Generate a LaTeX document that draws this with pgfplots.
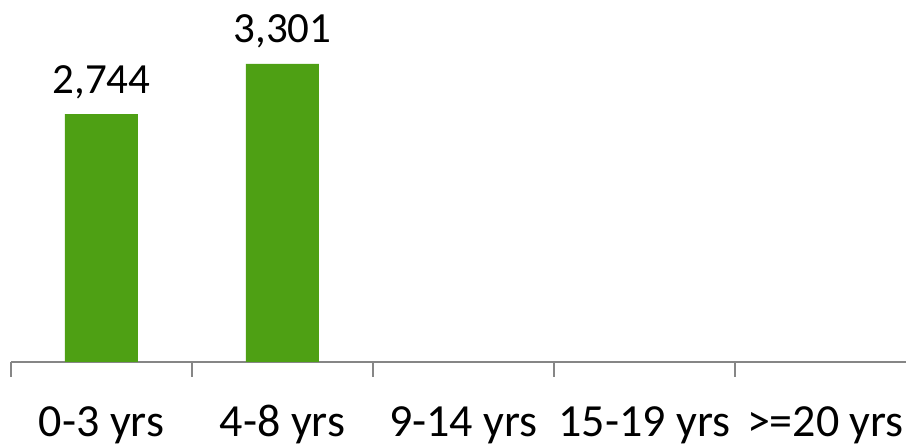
\documentclass[border=0pt]{standalone}
\usepackage{pgfplots}
\pgfplotsset{compat=1.18}
\usepackage{fontspec}
\setmainfont{Carlito}
\definecolor{bargreen}{RGB}{78,160,20}
\definecolor{axgray}{RGB}{134,134,134}
\begin{document}
\begin{tikzpicture}
\begin{axis}[
  name=ax,
  scale only axis,
  width=895pt, height=362pt,
  xmin=-0.5, xmax=4.445,
  ymin=0, ymax=4009,
  axis x line*=bottom,
  axis y line=none,
  axis line style={axgray, line width=1.3pt},
  x axis line style={-},
  xtick={0,1,2,3,4},
  xticklabels={0-3 yrs,4-8 yrs,9-14 yrs,15-19 yrs,>=20 yrs},
  major tick length=0pt,
  minor xtick={-0.5,0.5,1.5,2.5,3.5},
  minor tick length=15pt,
  xtick align=outside,
  minor tick style={axgray, line width=1.3pt},
  xticklabel style={font=\fontsize{46}{52}\selectfont, anchor=base, yshift=-74pt, inner sep=0pt},
  ybar,
  bar width=73pt,
  nodes near coords={\pgfmathprintnumber[fixed,1000 sep={,},assume math mode=true]{\pgfplotspointmeta}},
  nodes near coords style={font=\fontsize{43}{50}\selectfont, anchor=base, inner sep=0pt, yshift=21pt},
  clip=false,
]
\addplot[fill=bargreen, draw=none] coordinates {(0,2744) (1,3301)};
\end{axis}
\pgfresetboundingbox
\path[use as bounding box] ([xshift=-11pt,yshift=-84pt]ax.south west) rectangle (ax.north east);
\end{tikzpicture}
\end{document}
